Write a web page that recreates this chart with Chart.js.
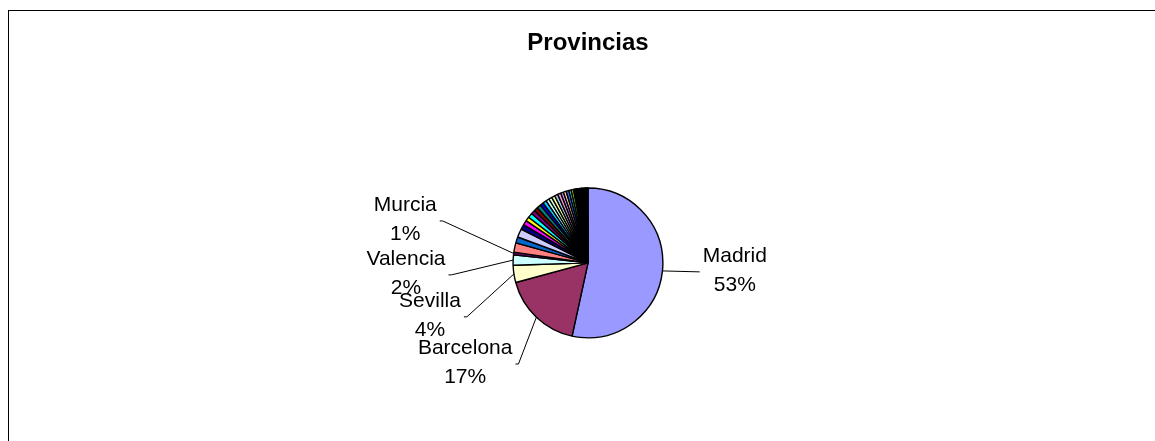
<!DOCTYPE html>
<html>
<head>
<meta charset="utf-8">
<script src="https://cdn.jsdelivr.net/npm/chart.js@4/dist/chart.umd.min.js"></script>
<style>
  html, body { margin: 0; padding: 0; background: #fff; overflow: hidden; }
  #frame { position: absolute; left: 8px; top: 10px; width: 1300px; height: 600px;
           border-top: 1px solid #000; border-left: 1px solid #000; }
  #c { position: absolute; left: 0; top: 0; }
</style>
</head>
<body>
<div id="frame"></div>
<canvas id="c" width="1155" height="441"></canvas>
<script>
const title = 'Provincias';

const provinces = [
  'Madrid', 'Barcelona', 'Sevilla', 'Valencia', 'Murcia',
  'Málaga', 'Alicante', 'Cádiz', 'Vizcaya', 'Asturias', 'Zaragoza',
  'Baleares', 'Las Palmas', 'Santa Cruz de Tenerife', 'A Coruña', 'Granada',
  'Córdoba', 'Pontevedra', 'Guipúzcoa', 'Navarra', 'Valladolid', 'Toledo',
  'Almería', 'Cantabria', 'Badajoz', 'Jaén', 'Huelva',
  'Castellón', 'Tarragona', 'Girona', 'Lleida', 'León', 'Burgos', 'Salamanca',
  'Ciudad Real', 'Cáceres', 'Albacete', 'Lugo', 'Ourense', 'La Rioja', 'Álava',
  'Guadalajara', 'Huesca', 'Cuenca', 'Zamora', 'Palencia', 'Ávila', 'Segovia',
  'Teruel', 'Soria', 'Ceuta', 'Melilla'
];

// share of each province (percent)
const shares = [
  53.2, 17.3, 3.7, 2.2, 0.6,
  2.0, 1.3, 1.8, 1.1, 1.0, 0.9,
  1.0, 0.9, 0.8, 0.9, 0.7,
  0.8, 0.7, 0.7, 0.7, 0.7, 0.7,
  0.6, 0.6, 0.6, 0.5, 0.5,
  0.16, 0.15, 0.15, 0.14, 0.14, 0.14, 0.13,
  0.13, 0.13, 0.13, 0.13, 0.12, 0.12, 0.12,
  0.12, 0.12, 0.12, 0.11, 0.11, 0.11, 0.11,
  0.11, 0.10, 0.10, 0.10
];

const sliceColors = [
  '#9999FF', '#993366', '#FFFFCC', '#CCFFFF', '#660066',
  '#FF8080', '#0066CC', '#CCCCFF', '#000080', '#FF00FF', '#FFFF00',
  '#00FFFF', '#800080', '#800000', '#008080', '#0000FF',
  '#00CCFF', '#CCFFFF', '#CCFFCC', '#FFFF99', '#99CCFF', '#FF99CC',
  '#CC99FF', '#FFCC99', '#3366FF', '#33CCCC', '#99CC00',
  '#FFCC00', '#FF9900', '#FF6600', '#666699', '#969696', '#003366', '#339966',
  '#003300', '#333300', '#993300', '#993366', '#333399', '#333333', '#000000',
  '#FFFFFF', '#FF0000', '#00FF00', '#0000FF', '#FFFF00', '#FF00FF', '#00FFFF',
  '#800000', '#008000', '#000080', '#808000'
];

// which slices carry a data label
const labelledSlices = ['Madrid', 'Barcelona', 'Sevilla', 'Valencia', 'Murcia'];

const FONT = '"Liberation Sans", Arial, Helvetica, sans-serif';

const labelPlugin = {
  id: 'pieLabels',
  afterDatasetsDraw(chart, args, opts) {
    const ctx = chart.ctx;
    const meta = chart.getDatasetMeta(0);
    const data = chart.data.datasets[0].data;
    const total = data.reduce((a, b) => a + b, 0);
    ctx.save();
    ctx.font = opts.fontSize + 'px ' + FONT;
    ctx.textAlign = 'center';
    ctx.textBaseline = 'middle';
    chart.data.labels.forEach((name, i) => {
      const place = opts.placement[name];
      if (!place || !labelledSlices.includes(name)) return;
      const arc = meta.data[i];
      const p = arc.getProps(['x', 'y', 'startAngle', 'endAngle', 'outerRadius'], true);
      const mid = (p.startAngle + p.endAngle) / 2;
      const ex = p.x + Math.cos(mid) * p.outerRadius;
      const ey = p.y + Math.sin(mid) * p.outerRadius;
      const ax = p.x + place[0] * p.outerRadius;
      const ay = p.y + place[1] * p.outerRadius;
      const pct = Math.round(data[i] / total * 100) + '%';
      const w = Math.max(ctx.measureText(name).width, ctx.measureText(pct).width);
      const left = place[0] < 0;
      const lx = left ? ax + w / 2 + 6 : ax - w / 2 - 3;
      const ly = ay + 1.5;
      ctx.strokeStyle = '#000';
      ctx.lineWidth = 1;
      ctx.beginPath();
      ctx.moveTo(ex, ey);
      ctx.lineTo(lx, ly);
      if (left) ctx.lineTo(lx - 3, ly);
      ctx.stroke();
      ctx.fillStyle = '#000';
      ctx.fillText(name, ax, ay - opts.lineGap / 2);
      ctx.fillText(pct, ax, ay + opts.lineGap / 2);
    });
    ctx.restore();
  }
};

new Chart(document.getElementById('c'), {
  type: 'pie',
  data: {
    labels: provinces,
    datasets: [{
      data: shares,
      backgroundColor: sliceColors,
      borderColor: '#000',
      borderWidth: 1.4
    }]
  },
  options: {
    responsive: false,
    animation: false,
    events: [],
    layout: { padding: { left: 21, right: 0, top: 0, bottom: 102.5 } },
    plugins: {
      legend: { display: false },
      tooltip: { enabled: false },
      title: {
        display: true,
        text: title,
        color: '#000',
        font: { family: FONT, size: 24, weight: 'bold' },
        padding: { top: 29, bottom: 129.5 }
      },
      pieLabels: {
        fontSize: 21,
        lineGap: 29,
        placement: {
          'Madrid':    [1.96, 0.10],
          'Barcelona': [-1.64, 1.33],
          'Sevilla':   [-2.11, 0.70],
          'Valencia':  [-2.43, 0.14],
          'Murcia':    [-2.44, -0.58]
        }
      }
    }
  },
  plugins: [labelPlugin]
});
</script>
</body>
</html>
